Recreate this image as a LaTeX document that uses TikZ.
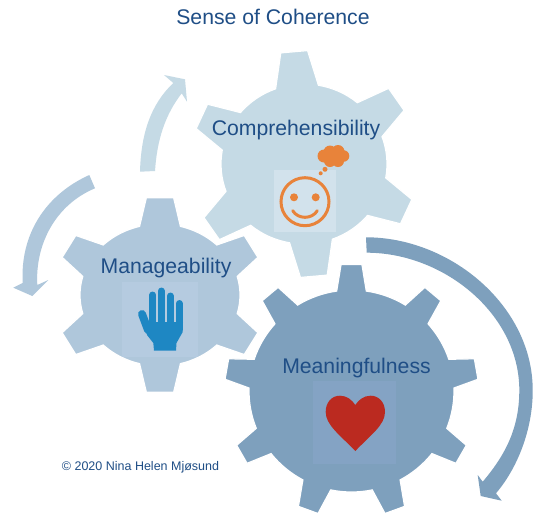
\documentclass[tikz,border=0pt]{standalone}
\usepackage{fontspec}
\setmainfont{Liberation Sans}
\definecolor{gearone}{HTML}{C5DAE5}
\definecolor{geartwo}{HTML}{AFC7DB}
\definecolor{gearthree}{HTML}{7EA0BD}
\definecolor{boxone}{HTML}{D2E2EC}
\definecolor{boxtwo}{HTML}{B5CBE0}
\definecolor{boxthree}{HTML}{84A3C4}
\definecolor{labelblue}{HTML}{1F4E86}
\definecolor{smile}{HTML}{E8833A}
\definecolor{handblue}{HTML}{1E87C3}
\definecolor{heartred}{HTML}{BB2A20}
% style, body rx, body ry, tip rx, tip ry, teeth, first angle, base half angle, tip half angle
\newcommand{\gear}[9]{%
  \begin{scope}[#1,y=1pt]
    \pgfmathsetmacro{\gearstep}{360/#6}
    \fill[gear line] ({#7+#8}:#2 and #3) \foreach \i in {1,...,#6} {
        -- ({#7-(\i-1)*\gearstep+#9}:#4 and #5) -- ({#7-(\i-1)*\gearstep-#9}:#4 and #5)
        -- ({#7-(\i-1)*\gearstep-#8}:#2 and #3)
        arc[start angle={#7-(\i-1)*\gearstep-#8},end angle={#7-\i*\gearstep+#8},x radius=#2,y radius=#3]
      } -- cycle;
  \end{scope}}
\begin{document}
\begin{tikzpicture}[x=1pt,y=-1pt,
    gear line/.style={draw=white,line width=1.2pt,line join=miter},
    big label/.style={font=\fontsize{21.2}{25}\selectfont,text=labelblue,inner sep=0pt},
    small label/.style={font=\fontsize{12.5}{14}\selectfont,text=labelblue,inner sep=0pt},
    face line/.style={draw=smile,line width=3pt,line cap=round},
    finger/.style={draw=handblue,line width=7pt,line cap=round}]
  \useasboundingbox (0,0) rectangle (533,512);
  \fill[white] (0,0) rectangle (533,512);
  % arrows
  \fill[gearone] (140,171.7) .. controls (141,135) and (150,105) .. (173.3,83) -- (164,75) -- (185,79.3)
     -- (187,101.7) -- (181.7,93.3) .. controls (165,115) and (157,140) .. (155,171) -- cycle;
  \fill[geartwo] (89.3,175) .. controls (45,195) and (20,235) .. (22.7,283) -- (13.3,287.7) -- (32.3,296)
     -- (48.3,280) -- (37.3,285) .. controls (35,245) and (55,205) .. (95,188.3) -- cycle;
  \fill[gearthree] (366,237.3) .. controls (450.5,237.3) and (532.7,306) .. (532.7,390)
     .. controls (533,425) and (520,465) .. (496,493.3) -- (501.7,500.7) -- (480.7,496) -- (477.7,475) -- (482.7,481.7)
     .. controls (508,452) and (519.3,425) .. (519.3,390) .. controls (519.3,314) and (443.7,252.7) .. (366.7,252.7) -- cycle;
  % gears
  \gear{shift={(304,164)},gearone}{83}{80}{113.5}{113.5}{6}{95}{15}{6.8}
  \gear{shift={(160,295)},geartwo}{80}{71}{106}{98}{6}{90}{14.8}{7.4}
  \gear{shift={(351.5,391)},gearthree}{102.5}{101}{127}{127}{9}{90}{8.3}{4.7}
  % comprehensibility icon
  \fill[boxone] (274,170) rectangle (336,232);
  \draw[draw=smile,line width=3pt] (305,201.7) circle (24);
  \fill[smile] (294,197.3) circle (4) (315.7,197.3) circle (4);
  \draw[face line] (292.7,210.7) .. controls (298,219.5) and (312,219.5) .. (317.3,210.7);
  \fill[smile] (324,156) circle (6.5) (330,152) circle (6.5) (338,151.5) circle (6.5) (343.5,156) circle (5.8)
     (338,161) circle (6) (330,161) circle (6) (325,169.3) circle (2.5) (320.7,173.3) circle (2);
  % manageability icon
  \fill[boxtwo] (122,282) rectangle (198,357);
  \draw[finger] (152.7,295) -- (152.7,325);
  \draw[finger] (161.3,291) -- (161.3,325);
  \draw[finger] (170.3,296) -- (170.3,325);
  \draw[finger] (179.3,303.5) -- (179.3,325);
  \draw[finger,line width=8pt] (142,314) -- (148,330);
  \fill[handblue] (146,322) -- (183,322) -- (182.7,332) -- (176.5,343) -- (176,350.7) -- (154,350.7) -- (153.3,343) -- (147,335) -- cycle;
  % meaningfulness icon
  \fill[boxthree] (312.7,381) rectangle (396,464);
  \fill[heartred] (355.3,451) .. controls (340,435) and (325.7,425) .. (325.7,412)
     .. controls (325.7,402) and (332,395.7) .. (340,395.7) .. controls (347,395.7) and (352,400) .. (355.3,405)
     .. controls (358.6,400) and (363.6,395.7) .. (370.6,395.7) .. controls (378.6,395.7) and (385,402) .. (385,412)
     .. controls (385,425) and (370.6,435) .. (355.3,451) -- cycle;
  % labels
  \node[big label] (title) at (273,17) {Sense of Coherence};
  \node[big label] (comprehensibility) at (296,130) {Comprehensibility};
  \node[big label] (manageability) at (166,268) {Manageability};
  \node[big label] (meaningfulness) at (356.5,368.5) {Meaningfulness};
  \node[small label] (copyright) at (140.5,467) {© 2020 Nina Helen Mjøsund};
\end{tikzpicture}
\end{document}
